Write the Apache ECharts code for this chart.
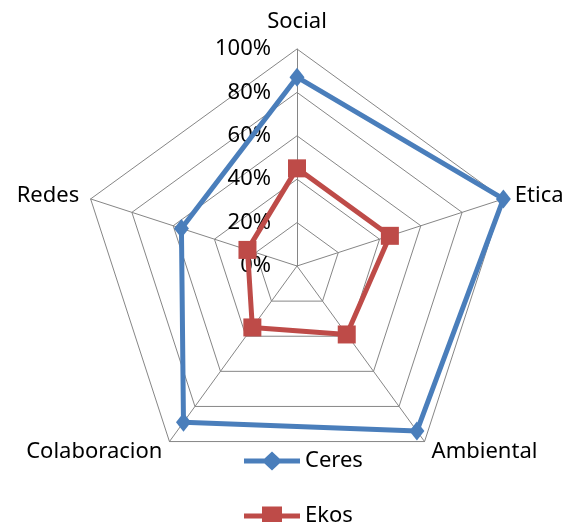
<!DOCTYPE html>
<html>
<head>
    <meta charset="UTF-8">
    <title>Radar</title>
    <script src="https://cdn.jsdelivr.net/npm/echarts@6/dist/echarts.min.js"></script>
    <style>
        body { margin: 0; background: #fff; }
    </style>
</head>
<body>
    <div id="chart" style="width:565px; height:522px;"></div>
    <script>
        // categorias y valores (%), en sentido horario desde arriba
        var categories = ['Social', 'Etica', 'Ambiental', 'Colaboracion', 'Redes'];
        var ceres = [87, 100, 94, 89, 56];
        var ekos = [45, 45, 39, 35, 24];
        var seriesNames = ['Ceres', 'Ekos'];

        // el radar de echarts va en sentido antihorario: invertimos el orden tras el primero
        function cw(arr) {
            return [arr[0]].concat(arr.slice(1).reverse());
        }

        var chart = echarts.init(document.getElementById('chart'), null, {renderer: 'canvas'});

        var font = 'Noto Sans';
        var indicators = cw(categories).map(function (c, i) {
            var ind = {name: c, min: 0, max: 100};
            if (i === 0) {
                // etiquetas 0%..100% solo en el eje superior
                ind.axisLabel = {show: true};
                ind.nameGap = 16;
            }
            return ind;
        });

        var option = {
            backgroundColor: '#fff',
            animation: false,
            legend: {
                orient: 'vertical',
                left: 239,
                top: 445,
                height: 80,
                itemWidth: 56,
                itemHeight: 19,
                itemGap: 33,
                textStyle: {fontFamily: font, fontSize: 22, color: '#000'},
                data: [
                    {name: seriesNames[0], icon: 'path://M0,7H20.5L28,0L35.5,7H56V12H35.5L28,19L20.5,12H0Z'},
                    {name: seriesNames[1], icon: 'path://M0,7H18V0H38V7H56V12H38V19H18V12H0Z'}
                ]
            },
            radar: {
                center: [297, 266],
                radius: 217,
                startAngle: 90,
                shape: 'polygon',
                splitNumber: 5,
                indicator: indicators,
                nameGap: 12,
                axisName: {color: '#000', fontFamily: font, fontSize: 22},
                axisLine: {lineStyle: {color: '#868686', width: 1}},
                splitLine: {lineStyle: {color: '#868686', width: 1}},
                splitArea: {show: false},
                axisTick: {show: false},
                axisLabel: {
                    show: false,
                    margin: 26,
                    color: '#000',
                    fontFamily: font,
                    fontSize: 22,
                    formatter: '{value}%'
                }
            },
            series: [{
                type: 'radar',
                data: [
                    {
                        name: seriesNames[0], value: cw(ceres),
                        symbol: 'diamond', symbolSize: [15, 19],
                        itemStyle: {color: '#4A7EBB'},
                        lineStyle: {color: '#4A7EBB', width: 5}
                    },
                    {
                        name: seriesNames[1], value: cw(ekos),
                        symbol: 'rect', symbolSize: 18,
                        itemStyle: {color: '#BE4B48'},
                        lineStyle: {color: '#BE4B48', width: 5}
                    }
                ]
            }]
        };
        chart.setOption(option);
    </script>
</body>
</html>
